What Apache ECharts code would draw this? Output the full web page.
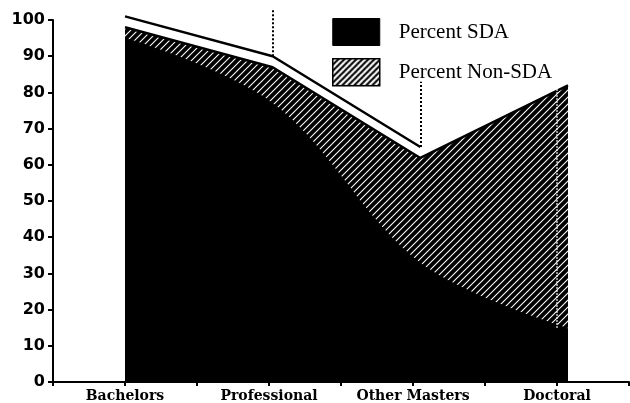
<!DOCTYPE html>
<html>
<head>
<meta charset="utf-8">
<script src="https://cdn.jsdelivr.net/npm/echarts@6/dist/echarts.min.js"></script>
<style>
  html, body { margin: 0; padding: 0; background: #fff; }
  #chart { width: 630px; height: 403px; }
</style>
</head>
<body>
<div id="chart"></div>
<script>
// ---- data ----
const categories = ['Bachelors', 'Professional', 'Other Masters', 'Doctoral'];
const percentSDA = [95, 77, 33, 15];
const percentNonSDA = [3, 10, 29, 67];
const yTickLabels = ['0','10','20','30','40','50','60','70','80','90','100'];
// decorative 3D top face depth (value units) and back-edge heights
const topFaceDepth = [3, 3, 3, '-'];
const backEdgeTop = [null, 103, 83, null];

const totals = percentSDA.map((v, i) => v + percentNonSDA[i]);

function makeHatch(size, bg, fg, lw) {
  const c = document.createElement('canvas');
  c.width = size; c.height = size;
  const ctx = c.getContext('2d');
  ctx.fillStyle = bg; ctx.fillRect(0, 0, size, size);
  ctx.strokeStyle = fg; ctx.lineWidth = lw;
  for (const o of [-size, 0, size]) {
    ctx.beginPath();
    ctx.moveTo(o - 1, size + 1);
    ctx.lineTo(o + size + 1, -1);
    ctx.stroke();
  }
  return { image: c, repeat: 'repeat' };
}
const areaHatch = makeHatch(7, '#000', '#fff', 1.1);
const legendHatch = makeHatch(6, '#fff', '#000', 2);

const chart = echarts.init(document.getElementById('chart'), null, { renderer: 'canvas' });

const backMarks = [];
categories.forEach((c, i) => {
  if (backEdgeTop[i] != null) {
    backMarks.push([{ coord: [c, totals[i] + topFaceDepth[i]] }, { coord: [c, backEdgeTop[i]] }]);
  }
});

const option = {
  animation: false,
  backgroundColor: '#fff',
  legend: {
    orient: 'vertical',
    left: 327,
    top: 13,
    itemWidth: 47,
    itemHeight: 27,
    itemGap: 12,
    icon: 'rect',
    textStyle: { fontFamily: 'Liberation Serif', fontSize: 21, color: '#000', padding: [0, 0, 0, 14] },
    data: [
      { name: 'Percent SDA', itemStyle: { color: '#000', borderColor: '#000', borderWidth: 1 } },
      { name: 'Percent Non-SDA', itemStyle: { color: legendHatch, borderColor: '#000', borderWidth: 1.5 } }
    ]
  },
  grid: [
    { left: 53, width: 576, top: 20, bottom: 20 },
    { left: 125, width: 443, top: 1.85, bottom: 20 }
  ],
  xAxis: [
    {
      gridIndex: 0, type: 'category', data: categories, boundaryGap: true,
      axisLine: { show: false }, axisTick: { show: false },
      axisLabel: { interval: 0, hideOverlap: false, fontFamily: 'DejaVu Serif', fontWeight: 'bold', fontSize: 14, color: '#000', margin: 7 }
    },
    {
      gridIndex: 0, type: 'category', data: ['a','b','c','d','e','f','g','h'], boundaryGap: true, position: 'bottom',
      axisLine: { show: true, lineStyle: { color: '#000', width: 2 } },
      axisTick: { show: true, length: 4, lineStyle: { color: '#000', width: 2 } },
      axisLabel: { show: false }
    },
    { gridIndex: 1, type: 'category', data: categories, boundaryGap: false, show: false }
  ],
  yAxis: [
    {
      gridIndex: 0, type: 'value', min: 0, max: 100, interval: 10,
      axisLine: { show: true, lineStyle: { color: '#000', width: 2 } },
      axisTick: { show: true, length: 5, lineStyle: { color: '#000', width: 2 } },
      splitLine: { show: false },
      axisLabel: {
        fontFamily: 'DejaVu Sans', fontWeight: 'bold', fontSize: 16, color: '#000', margin: 8,
        formatter: (v) => yTickLabels[Math.round(v / 10)]
      }
    },
    { gridIndex: 1, type: 'value', min: 0, max: 105, show: false }
  ],
  series: [
    {
      name: 'Percent Non-SDA', type: 'line', xAxisIndex: 2, yAxisIndex: 1, stack: 'top',
      data: totals, symbol: 'none',
      itemStyle: { color: areaHatch },
      lineStyle: { color: '#000', width: 2.5 },
      areaStyle: { color: areaHatch, opacity: 1 }
    },
    {
      name: 'Percent SDA', type: 'line', xAxisIndex: 2, yAxisIndex: 1,
      data: percentSDA, symbol: 'none', smooth: 0.35,
      itemStyle: { color: '#000' },
      lineStyle: { color: '#000', width: 1 },
      areaStyle: { color: '#000', opacity: 1 }
    },
    {
      name: 'topface', type: 'line', xAxisIndex: 2, yAxisIndex: 1, stack: 'top',
      data: topFaceDepth, symbol: 'none',
      lineStyle: { color: '#000', width: 2.5 },
      areaStyle: { color: '#fff', opacity: 1 },
      markLine: {
        silent: true, symbol: ['none', 'none'], label: { show: false },
        lineStyle: { color: '#000', width: 2, type: 'dotted' },
        data: backMarks
      }
    },
    {
      name: 'frontedge', type: 'line', xAxisIndex: 0, yAxisIndex: 0,
      data: categories.map(() => '-'), symbol: 'none',
      markLine: {
        silent: true, symbol: ['none', 'none'], label: { show: false },
        lineStyle: { color: '#fff', width: 1.5, type: 'dotted' },
        data: [[{ coord: [categories[3], percentSDA[3]] }, { coord: [categories[3], totals[3]] }]]
      }
    }
  ]
};
chart.setOption(option);
</script>
</body>
</html>
